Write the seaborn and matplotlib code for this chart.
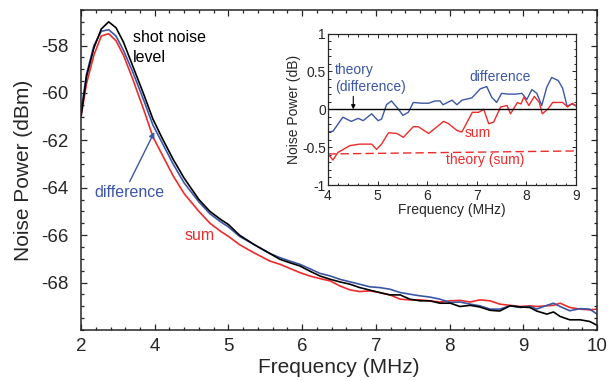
import matplotlib
matplotlib.use("Agg")
import matplotlib.pyplot as plt
import numpy as np
import pandas as pd
import seaborn as sns
from matplotlib.ticker import FixedLocator

# main panel: frequency (MHz) and noise power (dBm)
freq = [2.0, 2.15, 2.35, 2.55, 2.75, 2.95, 3.15, 3.4, 3.7, 3.95,
        4.1, 4.25, 4.4, 4.6, 4.75, 4.9, 5.0, 5.15, 5.35,
        5.56, 5.70, 5.83, 5.97, 6.10, 6.24, 6.38, 6.51, 6.65, 6.78,
        6.92, 7.05, 7.19, 7.33, 7.46, 7.60, 7.73, 7.87, 8.01, 8.14,
        8.28, 8.41, 8.55, 8.68, 8.82, 8.96, 9.09, 9.18, 9.32, 9.41,
        9.50, 9.63, 9.77, 9.90, 10.0]
shot = [-61.0, -59.3, -58.1, -57.3, -57.0, -57.25, -57.85, -58.85, -60.05, -61.1,
        -61.9, -62.8, -63.6, -64.5, -65.0, -65.35, -65.55, -66.0, -66.4,
        -66.77, -67.02, -67.16, -67.30, -67.51, -67.72, -67.86, -67.97, -68.07, -68.21,
        -68.32, -68.42, -68.52, -68.52, -68.70, -68.77, -68.77, -68.87, -68.87, -69.01,
        -68.96, -69.03, -69.17, -69.20, -68.98, -69.03, -69.05, -69.20, -69.33, -69.24,
        -69.43, -69.57, -69.57, -69.64, -69.80]
diff = [-60.8, -59.2, -58.0, -57.4, -57.33, -57.6, -58.2, -59.1, -60.3, -61.35,
        -62.1, -63.0, -63.8, -64.6, -65.1, -65.45, -65.65, -66.05, -66.4,
        -66.77, -66.95, -67.09, -67.23, -67.41, -67.61, -67.72, -67.86, -67.97, -68.07,
        -68.18, -68.21, -68.28, -68.42, -68.49, -68.56, -68.61, -68.70, -68.84, -68.82,
        -68.91, -68.98, -69.12, -69.12, -68.98, -69.05, -69.01, -69.12, -68.96, -68.87,
        -69.01, -69.19, -69.10, -69.12, -69.33]
summ = [-61.0, -59.6, -58.4, -57.6, -57.5, -57.8, -58.4, -59.4, -60.7, -61.85,
        -62.6, -63.5, -64.25, -65.0, -65.5, -65.85, -66.05, -66.4, -66.75,
        -67.09, -67.23, -67.40, -67.58, -67.72, -67.83, -67.93, -68.14, -68.31, -68.38,
        -68.35, -68.42, -68.52, -68.70, -68.73, -68.73, -68.77, -68.82, -68.77, -68.75,
        -68.82, -68.73, -68.77, -68.91, -68.96, -69.01, -68.98, -69.01, -68.98, -68.96,
        -68.87, -69.05, -69.12, -69.15, -69.12]

# inset: relative noise power (dB)
in_f_diff = [4.0, 4.10, 4.30, 4.47, 4.61, 4.71, 4.88, 5.01, 5.08, 5.18, 5.28,
             5.42, 5.51, 5.62, 5.72, 5.89, 6.03, 6.16, 6.26, 6.32, 6.5, 6.6,
             6.7, 6.9, 7.07, 7.20, 7.30, 7.40, 7.50, 7.64, 7.78, 7.91, 8.01,
             8.11, 8.21, 8.31, 8.41, 8.51, 8.64, 8.73, 8.82, 8.91, 9.0]
in_diff = [-0.30, -0.29, -0.105, -0.16, -0.12, -0.15, -0.06, -0.15, -0.13, 0.06, 0.11,
           0.0, -0.08, -0.04, 0.09, 0.08, 0.08, 0.11, 0.11, 0.06, 0.12, 0.06,
           0.12, 0.15, 0.27, 0.30, 0.16, 0.09, 0.21, 0.20, 0.20, 0.21, 0.13,
           0.26, 0.21, 0.05, 0.29, 0.42, 0.38, 0.28, 0.04, 0.07, 0.05]
in_f_sum = [4.0, 4.10, 4.20, 4.44, 4.64, 4.88, 4.98, 5.08, 5.22, 5.39, 5.52,
            5.72, 5.82, 6.03, 6.20, 6.33, 6.43, 6.60, 6.70, 6.91, 7.04, 7.14,
            7.24, 7.34, 7.48, 7.61, 7.68, 7.82, 7.89, 7.95, 8.05, 8.16, 8.26,
            8.32, 8.43, 8.53, 8.73, 8.83, 8.93, 9.0]
in_sum = [-0.59, -0.67, -0.57, -0.48, -0.46, -0.46, -0.53, -0.46, -0.31, -0.32, -0.37,
          -0.23, -0.23, -0.32, -0.23, -0.16, -0.19, -0.28, -0.30, -0.04, -0.04, 0.0,
          -0.19, -0.17, 0.03, 0.05, -0.06, 0.09, 0.07, 0.16, 0.05, 0.17, 0.09,
          -0.06, 0.0, 0.09, 0.09, 0.03, 0.08, 0.04]
theory_f = [4.0, 9.0]
theory_diff = [0.0, 0.0]
theory_sum = [-0.59, -0.55]

BLUE = "#3b56a6"
RED = "#ee2b2b"


def fwd(f):
    f = np.asarray(f, dtype=float)
    return np.where(f < 4, 3 + (f - 2) / 2, f)


def inv(u):
    u = np.asarray(u, dtype=float)
    return np.where(u < 4, 2 + 2 * (u - 3), u)


sns.set_style("ticks")
plt.rcParams["font.family"] = ["Liberation Sans", "DejaVu Sans"]
plt.rcParams["axes.unicode_minus"] = False

fig = plt.figure(figsize=(6.11, 3.81), dpi=100)
ax = fig.add_axes([0.1326, 0.1339, 0.8445, 0.8399])

main_df = pd.DataFrame({"freq": freq * 3,
                        "power": shot + diff + summ,
                        "kind": ["shot"] * len(freq) + ["diff"] * len(freq) + ["sum"] * len(freq)})
ax.set_xscale("function", functions=(fwd, inv))
sns.lineplot(data=main_df, x="freq", y="power", hue="kind", sort=False,
             palette={"shot": "black", "diff": BLUE, "sum": RED},
             hue_order=["sum", "diff", "shot"], lw=1.2, legend=False, ax=ax)

ax.set_xlim(2, 10)
ax.set_ylim(-70, -56.5)
ax.xaxis.set_major_locator(FixedLocator([2, 4, 5, 6, 7, 8, 9, 10]))
ax.xaxis.set_minor_locator(FixedLocator([2.4, 2.8, 3.2, 3.6] +
                                        list(np.arange(4.2, 10, 0.2))))
ax.set_xticklabels(["2", "4", "5", "6", "7", "8", "9", "10"])
ax.yaxis.set_major_locator(FixedLocator(np.arange(-68, -57, 2)))
ax.yaxis.set_minor_locator(FixedLocator(np.arange(-70, -56.4, 0.5)))
ax.tick_params(which="both", direction="in", top=True, right=True, width=0.9)
ax.tick_params(which="major", length=4.5, labelsize=13.5)
ax.tick_params(which="minor", length=2.5)
ax.tick_params(axis="x", which="major", pad=6)
ax.tick_params(axis="y", which="major", pad=9)
for s in ax.spines.values():
    s.set_visible(True)
    s.set_linewidth(1.1)
ax.set_xlabel("Frequency (MHz)", fontsize=15, labelpad=2)
ax.set_ylabel("Noise Power (dBm)", fontsize=15, labelpad=6)

ax.text(3.41, -57.83, "shot noise", fontsize=11.5, color="black", va="baseline")
ax.text(3.41, -58.71, "level", fontsize=11.5, color="black", va="baseline")
ax.text(2.35, -64.37, "difference", fontsize=11.5, color=BLUE, va="baseline")
ax.annotate("", xy=(3.99, -61.65), xytext=(3.32, -63.74),
            arrowprops=dict(arrowstyle="-|>", color=BLUE, lw=1.0,
                            mutation_scale=8, shrinkA=0, shrinkB=0))
ax.text(4.41, -66.22, "sum", fontsize=11.5, color=RED, va="baseline")

# inset
ins = fig.add_axes([0.5368, 0.5144, 0.4059, 0.3976])
ins.set_facecolor("white")
sns.lineplot(x=in_f_diff, y=in_diff, color=BLUE, lw=1.0, sort=False, ax=ins)
sns.lineplot(x=in_f_sum, y=in_sum, color=RED, lw=1.0, sort=False, ax=ins)
sns.lineplot(x=theory_f, y=theory_diff, color="black", lw=1.0, ax=ins)
sns.lineplot(x=theory_f, y=theory_sum, color=RED, lw=1.0, ax=ins,
             dashes=False, linestyle=(0, (6, 3)))
ins.set_xlim(4, 9)
ins.set_ylim(-1, 1)
ins.xaxis.set_major_locator(FixedLocator([4, 5, 6, 7, 8, 9]))
ins.xaxis.set_minor_locator(FixedLocator(np.arange(4.2, 9, 0.2)))
ins.yaxis.set_major_locator(FixedLocator([-1, -0.5, 0, 0.5, 1]))
ins.yaxis.set_minor_locator(FixedLocator(np.arange(-0.9, 1, 0.1)))
ins.set_yticklabels(["-1", "-0.5", "0", "0.5", "1"])
ins.tick_params(which="both", direction="in", top=True, right=True, width=0.7)
ins.tick_params(which="major", length=3, labelsize=10, pad=1.5)
ins.tick_params(axis="x", which="major", pad=3)
ins.tick_params(which="minor", length=1.8)
for s in ins.spines.values():
    s.set_visible(True)
    s.set_linewidth(0.9)
ins.set_xlabel("Frequency (MHz)", fontsize=10, labelpad=0)
ins.set_ylabel("Noise Power (dB)", fontsize=10, labelpad=1)

ins.text(4.14, 0.46, "theory", fontsize=10, color=BLUE, va="baseline")
ins.text(4.14, 0.245, "(difference)", fontsize=10, color=BLUE, va="baseline")
ins.annotate("", xy=(4.51, 0.0), xytext=(4.51, 0.17),
             arrowprops=dict(arrowstyle="-|>", color="black", lw=0.8,
                             mutation_scale=6, shrinkA=0, shrinkB=0))
ins.text(6.85, 0.376, "difference", fontsize=10, color=BLUE, va="baseline")
ins.text(6.75, -0.36, "sum", fontsize=10, color=RED, va="baseline")
ins.text(6.38, -0.72, "theory (sum)", fontsize=10, color=RED, va="baseline")

fig.savefig("out.png", dpi=100)
